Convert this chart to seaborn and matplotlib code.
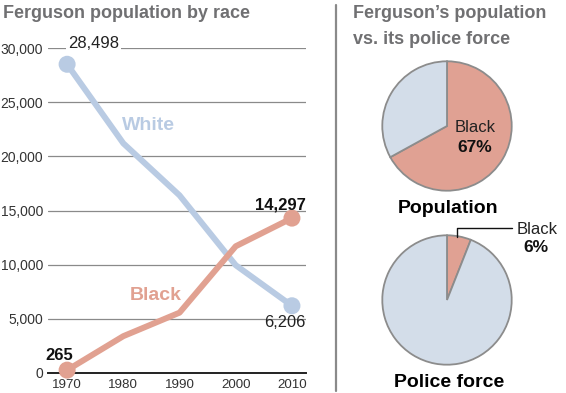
import matplotlib
matplotlib.use("Agg")
import matplotlib.pyplot as plt
import seaborn as sns
import pandas as pd

years = [1970, 1980, 1990, 2000, 2010]
white = [28498, 21200, 16400, 9950, 6206]
black = [265, 3400, 5570, 11700, 14297]
yticks = [0, 5000, 10000, 15000, 20000, 25000, 30000]
pie_pop = [67, 33]
pie_police = [6, 94]

C_WHITE_LINE = "#b9cbe3"
C_BLACK_LINE = "#e1a191"
C_WHITE_PIE = "#d3dde9"
C_BLACK_PIE = "#e0a193"
C_TITLE = "#707072"
FONT = "Liberation Sans"

sns.set_style("white")
plt.rcParams["font.family"] = [FONT, "DejaVu Sans"]

W, H = 566, 393
fig = plt.figure(figsize=(W / 100, H / 100), dpi=100)


def fx(x):
    return x / W


def fy(y):
    return 1 - y / H


# ---------- line chart ----------
ax = fig.add_axes([fx(48), fy(373), (306 - 48) / W, (373 - 48) / H])
df = pd.DataFrame({
    "year": years * 2,
    "pop": white + black,
    "race": ["White"] * len(years) + ["Black"] * len(years),
})
pal = {"White": C_WHITE_LINE, "Black": C_BLACK_LINE}
sns.lineplot(data=df, x="year", y="pop", hue="race", palette=pal, lw=4.3,
             legend=False, ax=ax, clip_on=False, zorder=3)
ends = df[df["year"].isin([years[0], years[-1]])]
sns.scatterplot(data=ends, x="year", y="pop", hue="race", palette=pal, s=150,
                edgecolor="none", legend=False, ax=ax, clip_on=False, zorder=4)

ax.set_xlim(1966.6, 2012.5)
ax.set_ylim(0, 30000)
ax.set_yticks(yticks)
ax.set_yticklabels([f"{v:,}" for v in yticks])
ax.set_xticks(years)
ax.set_xticklabels([str(y) for y in years])
ax.set_xlabel("")
ax.set_ylabel("")
for s in ["top", "right", "left"]:
    ax.spines[s].set_visible(False)
ax.spines["bottom"].set_color("#222222")
ax.spines["bottom"].set_linewidth(1.4)
ax.yaxis.grid(True, color="#8a8a8a", lw=0.9)
ax.set_axisbelow(True)
ax.tick_params(axis="y", length=0, pad=3.6, labelsize=10, labelcolor="#333333")
ax.tick_params(axis="x", direction="in", length=4.5, width=0.9, color="#555555",
               pad=4, labelsize=9.6, labelcolor="#333333")

ax.text(1970.2, 28498 + 1900, "28,498", fontsize=12, color="#222222", ha="left",
        va="center", bbox=dict(facecolor="white", edgecolor="none", pad=1.5), zorder=5)
ax.text(2012.4, 6206 - 1500, "6,206", fontsize=11.8, color="#222222", ha="right",
        va="center", zorder=5)
ax.text(2012.4, 15510, "14,297", fontsize=12, fontweight="bold",
        color="#111111", ha="right", va="center", zorder=5)
ax.text(1968.6, 1660, "265", fontsize=12, fontweight="bold",
        color="#111111", ha="center", va="center", zorder=5)
ax.text(1984.5, 22800, "White", fontsize=14, fontweight="bold", color=C_WHITE_LINE,
        ha="center", va="center", zorder=5)
ax.text(1985.8, 7200, "Black", fontsize=14, fontweight="bold", color=C_BLACK_LINE,
        ha="center", va="center", zorder=5)

fig.text(fx(3), fy(17.5), "Ferguson population by race", fontsize=13,
         fontweight="bold", color=C_TITLE, ha="left", va="baseline")

# ---------- separator ----------
fig.add_artist(plt.Line2D([fx(336), fx(336)], [fy(5), fy(391)],
                          color="#8a8a8a", lw=1.6))

fig.text(fx(353), fy(17.5), "Ferguson\u2019s population", fontsize=13,
         fontweight="bold", color=C_TITLE, ha="left", va="baseline")
fig.text(fx(353), fy(43.5), "vs. its police force", fontsize=13,
         fontweight="bold", color=C_TITLE, ha="left", va="baseline")

# ---------- pies ----------
R = 66


def pie_axes(cx, cy):
    a = fig.add_axes([fx(cx - R), fy(cy + R), 2 * R / W, 2 * R / H])
    return a


wedge_kw = dict(edgecolor="#8c8c8c", linewidth=1.3)

ax1 = pie_axes(447, 126)
ax1.pie(pie_pop, colors=[C_BLACK_PIE, C_WHITE_PIE], startangle=90,
        counterclock=False, wedgeprops=wedge_kw)
ax1.set_xlim(-1.02, 1.02)
ax1.set_ylim(-1.02, 1.02)
ax1.axis("off")
fig.text(fx(475), fy(127), "Black", fontsize=12, color="#222222", ha="center", va="center")
fig.text(fx(475), fy(147), "67%", fontsize=12.5, fontweight="bold", color="#111111",
         ha="center", va="center")
fig.text(fx(448), fy(213), "Population", fontsize=14, fontweight="bold",
         color="#000000", ha="center", va="baseline")

ax2 = pie_axes(447, 300)
ax2.pie(pie_police, colors=[C_BLACK_PIE, C_WHITE_PIE], startangle=90,
        counterclock=False, wedgeprops=wedge_kw)
ax2.set_xlim(-1.02, 1.02)
ax2.set_ylim(-1.02, 1.02)
ax2.axis("off")
fig.add_artist(plt.Line2D([fx(457), fx(457), fx(512)], [fy(237), fy(227.5), fy(227.5)],
                          color="#111111", lw=1.0))
fig.text(fx(517), fy(229), "Black", fontsize=12, color="#222222", ha="left", va="center")
fig.text(fx(536), fy(248), "6%", fontsize=12.5, fontweight="bold", color="#111111",
         ha="center", va="center")
fig.text(fx(449), fy(387), "Police force", fontsize=14, fontweight="bold",
         color="#000000", ha="center", va="baseline")

fig.savefig("out.png", dpi=100)
